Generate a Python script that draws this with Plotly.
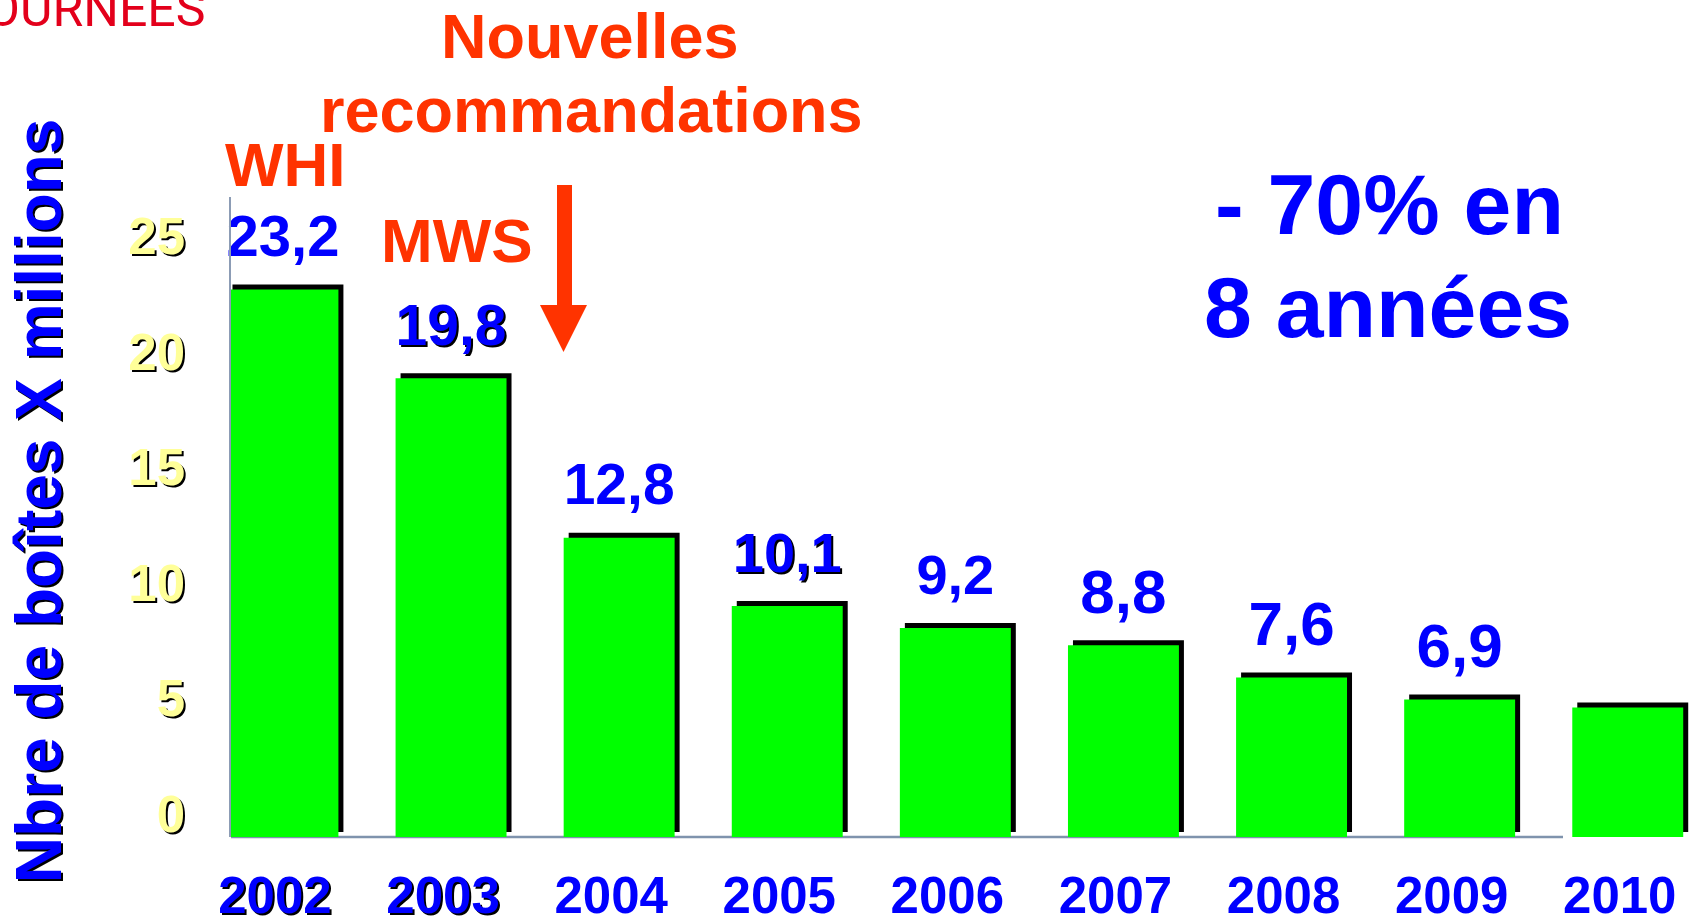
import plotly.graph_objects as go

# ---------------- data ----------------
years = ["2002", "2003", "2004", "2005", "2006", "2007", "2008", "2009", "2010"]
bar_heights = [23.7, 19.85, 12.95, 10.0, 9.05, 8.3, 6.9, 5.95, 5.6]
value_labels = ["23,2", "19,8", "12,8", "10,1", "9,2", "8,8", "7,6", "6,9", ""]
label_sizes = [58, 57, 57, 56, 56, 62, 62, 62, 62]
label_shadowed = [False, True, False, True, False, False, False, False, False]
year_shadowed = [True, True, False, False, False, False, False, False, False]
y_ticks = [0, 5, 10, 15, 20, 25]

# ---------------- geometry (page pixels) ----------------
FIG_W, FIG_H = 1696, 924
PL, PT, PB, PR = 231, 197, 836.7, 1696   # plot area edges on the page
W = PR - PL
H = PB - PT
YMAX = 27.7
PPU = H / YMAX               # pixels per y unit


def px(x):
    return (x - PL) / W


def py(y):
    return (PB - y) / H


FONT = "Liberation Sans, Arial, sans-serif"
BLUE = "#0000FF"
ORANGE = "#FF3300"
bw = 0.66
sdx = 5 / 168.1
sdy = 5 / PPU
label_gap = 48 / PPU

fig = go.Figure()
fig.add_trace(go.Bar(x=years, y=bar_heights, base=sdy, width=bw, offset=-bw / 2 + sdx,
                     marker=dict(color="#000000", line=dict(width=0)),
                     hoverinfo="skip", showlegend=False))
fig.add_trace(go.Bar(x=years, y=bar_heights, width=bw, offset=-bw / 2,
                     marker=dict(color="#00FF00", line=dict(width=0)),
                     showlegend=False))

# value labels above bars (two groups: with / without shadow)
for shadow_flag in (False, True):
    xs, ys, ts, ss = [], [], [], []
    for yr, h, lab, sz, sh in zip(years, bar_heights, value_labels, label_sizes, label_shadowed):
        if lab and sh == shadow_flag:
            xs.append(yr)
            ys.append(h + label_gap)
            ts.append(lab)
            ss.append(sz)
    fig.add_trace(go.Scatter(
        x=xs, y=ys, text=ts, mode="text", textposition="middle center",
        cliponaxis=False, hoverinfo="skip", showlegend=False,
        textfont=dict(family=FONT, size=ss, color=BLUE, weight="bold",
                      shadow="2px 2px 0px #000000" if shadow_flag else "none")))

ticktext = []
for yr, sh in zip(years, year_shadowed):
    if sh:
        ticktext.append('<span style="text-shadow:2px 2px 0px #000000">%s</span>' % yr)
    else:
        ticktext.append(yr)


def txt(text, x, y, size, color, **kw):
    d = dict(x=px(x), y=py(y), xref="paper", yref="paper", text=text, showarrow=False,
             xanchor="center", yanchor="middle",
             font=dict(family=FONT, size=size, color=color, weight="bold"))
    d.update(kw)
    return d


annotations = [
    txt("Nouvelles", 590, 36, 63, ORANGE),
    txt("recommandations", 591, 110, 63, ORANGE),
    txt("WHI", 285, 165, 62, ORANGE),
    txt("MWS", 457, 240, 62, ORANGE),
    txt("- 70% en", 1389, 204, 86, BLUE),
    txt("8 années", 1388, 307, 86, BLUE),
    dict(x=px(39), y=py(501), xref="paper", yref="paper", text="Nbre de boîtes X millions",
         showarrow=False, textangle=-90, xanchor="center", yanchor="middle",
         font=dict(family=FONT, size=64, color=BLUE, weight="bold",
                   shadow="-2px 2px 0px #000000")),
    dict(x=px(207), y=py(9), xref="paper", yref="paper", text="JOURNEES",
         showarrow=False, xanchor="right", yanchor="middle",
         font=dict(family="Roboto, sans-serif", size=50, color="#E3001B", weight=400)),
]

shapes = [
    dict(type="line", xref="paper", yref="paper", x0=0, x1=px(1563), y0=0, y1=0,
         line=dict(color="#7F93AD", width=2.5), layer="below"),
    dict(type="rect", xref="paper", yref="paper", x0=px(557), x1=px(572), y0=py(306), y1=py(185),
         fillcolor=ORANGE, line=dict(width=0)),
    dict(type="path", xref="paper", yref="paper",
         path="M %f %f L %f %f L %f %f Z" % (px(540), py(305), px(587), py(305), px(563.5), py(352)),
         fillcolor=ORANGE, line=dict(width=0)),
]

fig.update_layout(
    width=FIG_W, height=FIG_H,
    margin=dict(l=PL, r=FIG_W - PR, t=PT, b=FIG_H - PB, pad=0, autoexpand=False),
    paper_bgcolor="white", plot_bgcolor="white",
    barmode="overlay",
    showlegend=False,
    annotations=annotations,
    shapes=shapes,
    xaxis=dict(type="category", range=[-0.309, 8.406], tickvals=years, ticktext=ticktext,
               showgrid=False, zeroline=False, showline=False, ticks="", automargin=False,
               tickfont=dict(family=FONT, size=51, color=BLUE, weight="bold"),
               ticklabelstandoff=24, ticklabelshift=-8),
    yaxis=dict(range=[0, YMAX], tickvals=y_ticks, showgrid=False, zeroline=False,
               showline=True, linecolor="#8C9CB5", linewidth=1.5, ticks="", automargin=False,
               tickfont=dict(family=FONT, size=51, color="#FFFF99", weight="bold",
                             shadow="2px 2px 0px #000000"),
               ticklabelstandoff=34, ticklabelshift=-23),
)

fig.write_html(
    "out.html",
    config={"displayModeBar": False},
    post_script=("document.documentElement.style.overflow='hidden';"
                 "document.body.style.margin='0px';"
                 "document.body.style.overflow='hidden';"),
)
